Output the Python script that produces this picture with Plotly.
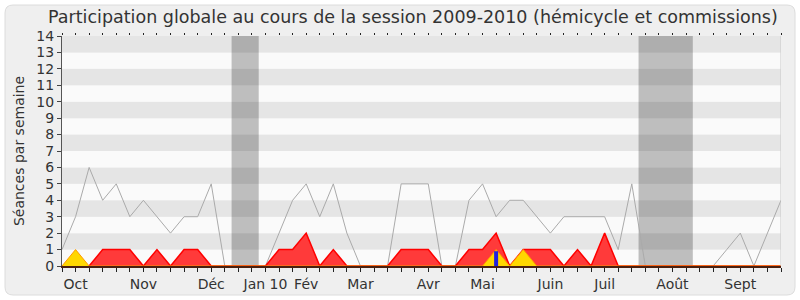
import plotly.graph_objects as go

weeks = list(range(54))
total_seances = [1, 3, 6, 4, 5, 3, 4, 3, 2, 3, 3, 5, 0, 0, 0, 0, 2, 4, 5, 3,
                 5, 2, 0, 0, 0, 5, 5, 5, 0, 0, 4, 5, 3, 4, 4, 3, 2, 3, 3, 3,
                 3, 1, 5, 0, 0, 0, 0, 0, 0, 1, 2, 0, 2, 4]
commission = [0, 0, 0, 1, 1, 1, 0, 1, 0, 1, 1, 0, 0, 0, 0, 0, 1, 1, 2, 0,
              1, 0, 0, 0, 0, 1, 1, 1, 0, 0, 1, 1, 2, 0, 1, 1, 1, 0, 1, 0,
              2, 0, 0, 0, 0, 0, 0, 0, 0, 0, 0, 0, 0, 0]
hemicycle = [0, 1, 0, 0, 0, 0, 0, 0, 0, 0, 0, 0, 0, 0, 0, 0, 0, 0, 0, 0,
             0, 0, 0, 0, 0, 0, 0, 0, 0, 0, 0, 0, 1, 0, 1, 0, 0, 0, 0, 0,
             0, 0, 0, 0, 0, 0, 0, 0, 0, 0, 0, 0, 0, 0]
interv_weeks = [32]
interv_vals = [0.9]
vacances = [(12.5, 14.5), (42.5, 46.5)]
month_weeks = [1, 6, 11, 15, 18, 22, 27, 31, 36, 40, 45, 50]
month_labels = ["Oct", "Nov", "Déc", "Jan 10", "Fév", "Mar", "Avr", "Mai",
                "Juin", "Juil", "Août", "Sept"]
ymax = 14

FONT = "DejaVu Sans"
L, R, T, B = 62, 19, 36, 34
W, H = 800, 300
pw, ph = W - L - R, H - T - B

def px_x(p):
    return (p - L) / pw

def px_y(p):
    return (H - B - p) / ph

fig = go.Figure()
fig.add_trace(go.Scatter(x=weeks, y=total_seances, mode="lines",
                         line=dict(color="#AAAAAA", width=1), hoverinfo="skip"))
fig.add_trace(go.Scatter(x=weeks, y=commission, mode="lines", fill="tozeroy",
                         fillcolor="#FF3A3A", line=dict(color="#FF0000", width=1.5),
                         hoverinfo="skip"))
fig.add_trace(go.Scatter(x=weeks, y=hemicycle, mode="lines", fill="tozeroy",
                         fillcolor="#FFD700", line=dict(color="#FF9900", width=1),
                         hoverinfo="skip"))
for w, v in zip(interv_weeks, interv_vals):
    fig.add_trace(go.Scatter(x=[w, w], y=[0, v], mode="lines",
                             line=dict(color="#2222DD", width=4), hoverinfo="skip"))
fig.add_trace(go.Scatter(x=weeks, y=[0] * len(weeks), mode="lines", xaxis="x2",
                         line=dict(color="rgba(0,0,0,0)", width=0), hoverinfo="skip"))

shapes = []
# outer rounded panel
x0, x1 = px_x(5), px_x(795)
y0, y1 = px_y(295), px_y(5)
rx = 8 / pw
ry = 8 / ph
path = (f"M {x0+rx},{y0} L {x1-rx},{y0} Q {x1},{y0} {x1},{y0+ry} "
        f"L {x1},{y1-ry} Q {x1},{y1} {x1-rx},{y1} L {x0+rx},{y1} "
        f"Q {x0},{y1} {x0},{y1-ry} L {x0},{y0+ry} Q {x0},{y0} {x0+rx},{y0} Z")
shapes.append(dict(type="path", path=path, xref="paper", yref="paper",
                   fillcolor="#EFEFEF", line=dict(color="#DCDCDC", width=1), layer="below"))
for k in range(ymax):
    shapes.append(dict(type="rect", xref="x", yref="y", x0=0, x1=53, y0=k, y1=k + 1,
                       fillcolor="#E5E5E5" if k % 2 == 1 else "#FAFAFA",
                       line=dict(width=0), layer="below"))
for a, b in vacances:
    shapes.append(dict(type="rect", xref="x", yref="y", x0=a, x1=b, y0=0, y1=ymax,
                       fillcolor="rgba(0,0,0,0.24)", line=dict(width=0), layer="below"))
shapes.append(dict(type="line", xref="x", yref="y", x0=53, x1=53, y0=0, y1=ymax,
                   line=dict(color="#C8C8C8", width=1)))

ticktext = [""] * len(weeks)
for w, lab in zip(month_weeks, month_labels):
    ticktext[w] = lab

fig.update_layout(
    template="none",
    width=W, height=H,
    margin=dict(l=L, r=R, t=T, b=B, pad=0),
    paper_bgcolor="white",
    plot_bgcolor="#FAFAFA",
    showlegend=False,
    shapes=shapes,
    font=dict(family=FONT, size=14, color="#333333"),
    xaxis=dict(range=[0, 53], tickmode="array", tickvals=weeks, ticktext=ticktext,
               ticks="outside", ticklen=4, tickcolor="#222222", showgrid=False,
               zeroline=False, showline=True, linecolor="#4A2010", linewidth=1.5,
               automargin=False,
               tickfont=dict(size=14, color="#333333", family=FONT), fixedrange=True),
    xaxis2=dict(range=[0, 53], overlaying="x", side="top", tickmode="array",
                tickvals=weeks, ticks="outside", ticklen=2, tickcolor="#222222",
                automargin=False,
                showticklabels=False, showgrid=False, zeroline=False, showline=False),
    yaxis=dict(range=[0, ymax], tickmode="array", tickvals=list(range(ymax + 1)),
               ticks="outside", ticklen=4, tickcolor="#444444", showgrid=False,
               zeroline=False, showline=True, linecolor="#555555", linewidth=1,
               automargin=False,
               tickfont=dict(size=14, color="#333333", family=FONT),
               title=dict(text="Séances par semaine", font=dict(size=14, family=FONT, color="#333333"),
                          standoff=8)),
    annotations=[dict(text="Participation globale au cours de la session 2009-2010 (hémicycle et commissions)",
                      xref="paper", yref="paper", x=px_x(413), y=px_y(17),
                      xanchor="center", yanchor="middle", showarrow=False,
                      font=dict(size=17.5, family=FONT, color="#333333"))],
)

fig.write_html("out.html")
